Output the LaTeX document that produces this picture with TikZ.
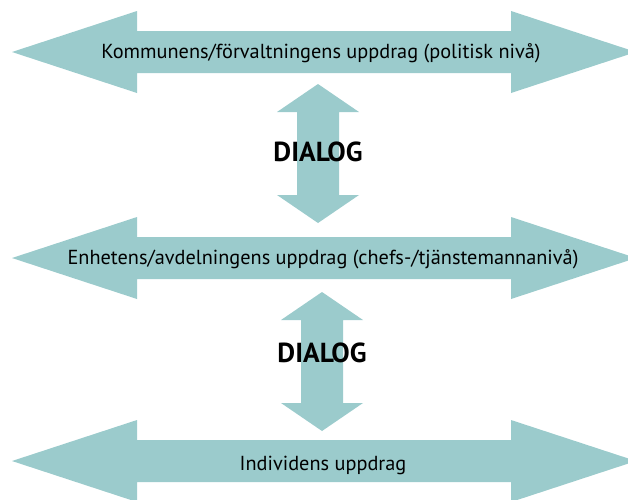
\documentclass[tikz,border=0pt]{standalone}
\usepackage{fontspec}
\setmainfont{PT Sans}
\usepackage{tikz}
\usetikzlibrary{positioning}
\definecolor{pilfarg}{HTML}{9BCBCC}
\tikzset{
	% bred dubbelpil (nivå)
	nivapil/.style={fill=pilfarg, draw=none},
	% smal dubbelpil (dialog)
	dialogpil/.style={fill=pilfarg, draw=none},
	% text i nivåpilarna
	nivatext/.style={font=\fontsize{20.3}{24}\selectfont, inner sep=0pt, anchor=base},
	% dialogtext
	dialogtext/.style={font=\bfseries\fontsize{27.5}{32}\selectfont, inner sep=0pt, anchor=base},
}

\begin{document}
\begin{tikzpicture}[x=1pt, y=-1pt]
    \clip (0,0) rectangle (628,499);
    % nivåpilar
    \foreach \y in {52, 258, 461} {
      \fill[nivapil] (12,\y) -- (137,\y-41) -- (137,\y-21) -- (511,\y-21) -- (511,\y-41) -- (636,\y)
        -- (511,\y+41) -- (511,\y+21) -- (137,\y+21) -- (137,\y+41) -- cycle;
    }
    % dialogpilar
    \foreach \x/\a/\b in {318/84/223, 322/292/431} {
      \fill[dialogpil] (\x,\a) -- (\x+41,\a+28) -- (\x+21,\a+28) -- (\x+21,\b-28) -- (\x+41,\b-28) -- (\x,\b)
        -- (\x-41,\b-28) -- (\x-21,\b-28) -- (\x-21,\a+28) -- (\x-41,\a+28) -- cycle;
    }
    \node[nivatext] (komm) at (321,58) {Kommunens/förvaltningens uppdrag (politisk nivå)};
    \node[nivatext] (enh) at (323,264) {Enhetens/avdelningens uppdrag (chefs-/tjänstemannanivå)};
    \node[nivatext] (ind) at (323,470) {Individens uppdrag};
    \node[dialogtext] (dialog1) at (318,161) {DIALOG};
    \node[dialogtext] (dialog2) at (322,362) {DIALOG};
  \end{tikzpicture}
\end{document}
